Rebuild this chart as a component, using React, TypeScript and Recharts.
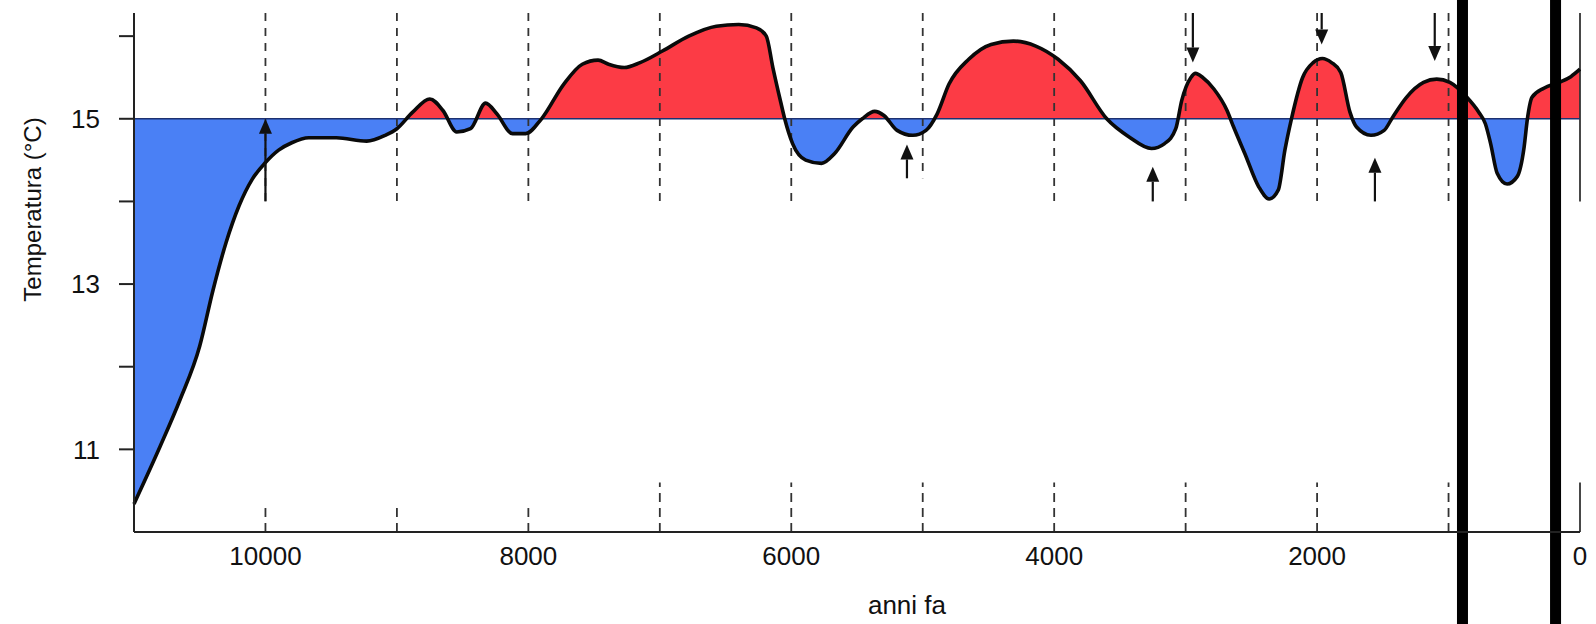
import React from 'react';
import { AreaChart, Area, Line, XAxis, YAxis, ReferenceLine } from 'recharts';

// anni fa (descending so the reversed axis runs left to right)
const years = [
  11000, 10800, 10650, 10500, 10400, 10300, 10200, 10100, 10000, 9900, 9800, 9670, 9460, 9230, 9090, 9000,
  8880, 8750, 8650, 8545, 8440, 8325, 8240, 8120, 8020, 7900, 7730, 7590, 7470, 7390, 7270, 7150,
  6980, 6780, 6570, 6400, 6265, 6190, 6140, 6080, 6050, 5990, 5890, 5770, 5670, 5530, 5460, 5365,
  5295, 5195, 5075, 4975, 4890, 4800, 4650, 4480, 4310, 4140, 3970, 3800, 3600, 3430, 3260, 3160,
  3075, 3030, 2960, 2925, 2870, 2785, 2685, 2635, 2550, 2445, 2365, 2295, 2245, 2195, 2110, 2030, 1960,
  1890, 1820, 1750, 1700, 1590, 1490, 1425, 1320, 1190, 1090, 990, 860, 770, 720, 680, 630, 555, 478,
  425, 400, 365, 275, 160, 70, 0,
];
const temps = [
  10.34, 11.04, 11.6, 12.25, 12.92, 13.5, 13.95, 14.27, 14.47, 14.62, 14.71, 14.77, 14.77, 14.73, 14.8, 14.88,
  15.08, 15.24, 15.1, 14.84, 14.88, 15.19, 15.06, 14.82, 14.82, 15.0, 15.42, 15.66, 15.71, 15.66, 15.62, 15.68,
  15.82, 16.0, 16.12, 16.14, 16.1, 16.0, 15.62, 15.2, 15.0, 14.7, 14.5, 14.46, 14.58, 14.9, 15.0, 15.09,
  15.04, 14.86, 14.8, 14.86, 15.06, 15.42, 15.72, 15.9, 15.94, 15.88, 15.72, 15.46, 15.0, 14.78, 14.64, 14.7,
  14.88, 15.22, 15.5, 15.55, 15.5, 15.36, 15.1, 14.9, 14.58, 14.18, 14.03, 14.14, 14.62, 15.0, 15.5, 15.68, 15.73,
  15.68, 15.56, 15.08, 14.9, 14.8, 14.86, 15.02, 15.26, 15.44, 15.48, 15.44, 15.26, 15.08, 14.94, 14.7, 14.34, 14.21, 14.3,
  14.66, 15.0, 15.26, 15.37, 15.44, 15.51, 15.6,
];

const xTicks = [10000, 8000, 6000, 4000, 2000, 0];
const yTicks = [11, 12, 13, 14, 15, 16];
const gridYears = [10000, 9000, 8000, 7000, 6000, 5000, 4000, 3000, 2000, 1000];
const gridEnds = [14, 14, 14, 14, 14, 14.28, 14, 14, 14, 14];
const lowGridTops = [10.29, 10.29, 10.29, 10.6, 10.6, 10.6, 10.6, 10.6, 10.6, 10.6];

// arrows: start value -> tip value
const arrowYears = [10000, 5120, 3250, 1560, 2945, 1965, 1105];
const arrowFrom = [14.0, 14.28, 14.0, 14.0, 16.28, 16.28, 16.28];
const arrowTo = [15.0, 14.69, 14.42, 14.53, 15.68, 15.9, 15.7];

const barYears = [894, 186];

const BASE = 15;
const Y_MIN = 10;
const Y_MAX = 16.28;

const data = years.map((year, i) => ({ year, temp: temps[i] }));
const tMax = Math.max(...temps);
const tMin = Math.min(...temps);
const splitOffset = (tMax - BASE) / (tMax - tMin);

const FONT = '"Liberation Sans", Arial, sans-serif';

const Arrow = (props: any) => {
  const { x1, y1, x2, y2 } = props;
  const dir = Math.sign(y2 - y1);
  const head = 15;
  const half = 6.5;
  const by = y2 - dir * head;
  return (
    <g>
      <line x1={x1} y1={y1} x2={x2} y2={by} stroke="#111" strokeWidth={2.2} />
      <polygon points={`${x2 - half},${by} ${x2 + half},${by} ${x2},${y2}`} fill="#111" />
    </g>
  );
};

const YLabel = (props: any) => {
  const vb = props.viewBox || { x: 0, y: 13, width: 134, height: 519 };
  const cx = vb.x + 32;
  const cy = vb.y + vb.height / 2 - 63;
  return (
    <text x={cx} y={cy} transform={`rotate(-90 ${cx} ${cy})`} textAnchor="middle"
      dominantBaseline="central" fontSize={24} fontFamily={FONT} fill="#111">
      Temperatura (°C)
    </text>
  );
};

const XLabel = (props: any) => {
  const vb = props.viewBox || { x: 134, y: 532, width: 1446, height: 92 };
  const cx = vb.x + vb.width / 2 + 50;
  const cy = vb.y + 73;
  return (
    <text x={cx} y={cy} textAnchor="middle" dominantBaseline="central"
      fontSize={26} fontFamily={FONT} fill="#111">
      anni fa
    </text>
  );
};

export default function App() {
  return (
    <div style={{ position: 'absolute', left: 0, top: 0, width: 1596, height: 624, background: '#fff' }}>
      <AreaChart width={1596} height={624} data={data} margin={{ top: 13, right: 16, left: 0, bottom: 0 }}>
        <defs>
          <linearGradient id="splitFill" x1="0" y1="0" x2="0" y2="1">
            <stop offset={splitOffset} stopColor="#fc3b45" />
            <stop offset={splitOffset} stopColor="#4a80f5" />
          </linearGradient>
        </defs>
        <XAxis
          type="number"
          dataKey="year"
          domain={[0, 11000]}
          reversed
          ticks={xTicks}
          tickLine={false}
          tickSize={6}
          tickMargin={9}
          height={92}
          axisLine={{ stroke: '#222', strokeWidth: 2 }}
          tick={{ fontSize: 26, fontFamily: FONT, fill: '#111' }}
          label={{ content: <XLabel /> }}
        />
        <YAxis
          type="number"
          domain={[Y_MIN, Y_MAX]}
          ticks={yTicks}
          width={134}
          tickSize={15}
          tickMargin={19}
          tickFormatter={(v: number) => (v % 2 === 1 ? String(v) : '')}
          axisLine={{ stroke: '#222', strokeWidth: 2 }}
          tickLine={{ stroke: '#222', strokeWidth: 2 }}
          tick={{ fontSize: 26, fontFamily: FONT, fill: '#111' }}
          label={{ content: <YLabel /> }}
        />
        {gridYears.map((yr, i) => (
          <ReferenceLine key={`gt${yr}`} segment={[{ x: yr, y: Y_MAX }, { x: yr, y: gridEnds[i] }]}
            stroke="#333" strokeWidth={1.8} strokeDasharray="8 7" />
        ))}
        {gridYears.map((yr, i) => (
          <ReferenceLine key={`gb${yr}`} segment={[{ x: yr, y: Y_MIN }, { x: yr, y: lowGridTops[i] }]}
            stroke="#333" strokeWidth={1.8} strokeDasharray="9 6" />
        ))}
        <ReferenceLine segment={[{ x: 0, y: Y_MAX }, { x: 0, y: 14 }]} stroke="#333" strokeWidth={1.8} />
        <ReferenceLine segment={[{ x: 0, y: 10.6 }, { x: 0, y: Y_MIN }]} stroke="#333" strokeWidth={1.8} />
        <Area
          type="monotone"
          dataKey="temp"
          baseValue={BASE}
          stroke="none"
          fill="url(#splitFill)"
          fillOpacity={1}
          isAnimationActive={false}
        />
        <ReferenceLine y={BASE} stroke="#1d3170" strokeWidth={1.6} />
        <Line
          type="monotone"
          dataKey="temp"
          stroke="#0a0a0a"
          strokeWidth={3.6}
          dot={false}
          activeDot={false}
          isAnimationActive={false}
        />
        {arrowYears.map((yr, i) => (
          <ReferenceLine key={`ar${i}`} segment={[{ x: yr, y: arrowFrom[i] }, { x: yr, y: arrowTo[i] }]}
            shape={<Arrow />} ifOverflow="visible" />
        ))}
        {barYears.map((yr) => (
          <ReferenceLine key={`bar${yr}`} segment={[{ x: yr, y: 16.5 }, { x: yr, y: 8.8 }]}
            stroke="#000" strokeWidth={11} ifOverflow="visible" />
        ))}
      </AreaChart>
    </div>
  );
}
